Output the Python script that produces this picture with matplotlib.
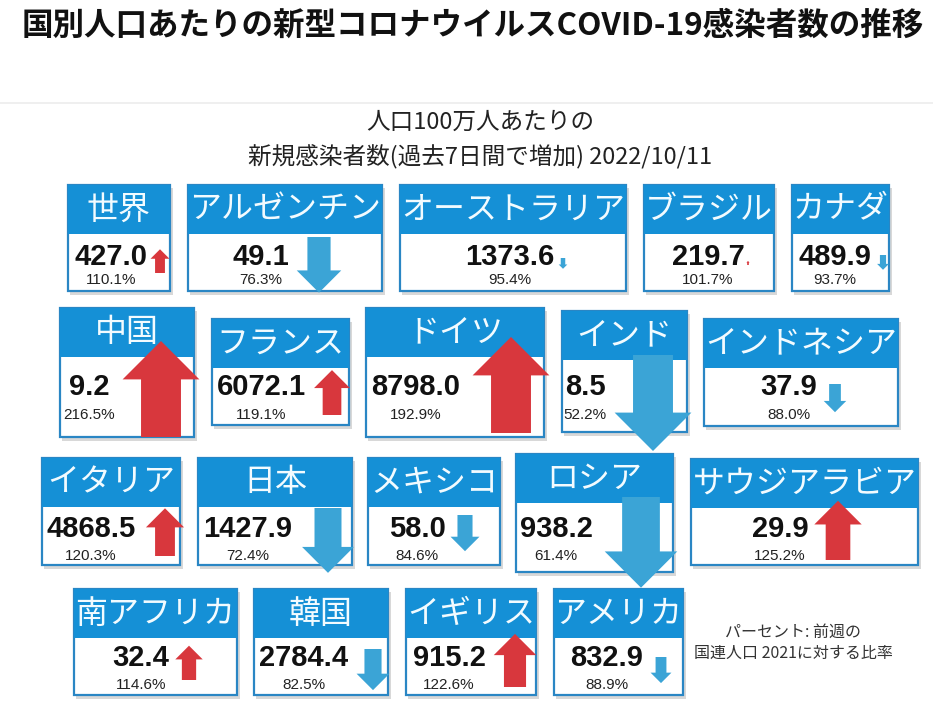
import matplotlib
matplotlib.use("Agg")
import matplotlib.pyplot as plt
from matplotlib.patches import Rectangle, Polygon

# ---------------- data ----------------
countries = ["世界", "アルゼンチン", "オーストラリア", "ブラジル", "カナダ",
             "中国", "フランス", "ドイツ", "インド", "インドネシア",
             "イタリア", "日本", "メキシコ", "ロシア", "サウジアラビア",
             "南アフリカ", "韓国", "イギリス", "アメリカ"]
cases = [427.0, 49.1, 1373.6, 219.7, 489.9,
         9.2, 6072.1, 8798.0, 8.5, 37.9,
         4868.5, 1427.9, 58.0, 938.2, 29.9,
         32.4, 2784.4, 915.2, 832.9]
pct = [110.1, 76.3, 95.4, 101.7, 93.7,
       216.5, 119.1, 192.9, 52.2, 88.0,
       120.3, 72.4, 84.6, 61.4, 125.2,
       114.6, 82.5, 122.6, 88.9]

title = "国別人口あたりの新型コロナウイルスCOVID-19感染者数の推移"
subtitle1 = "人口100万人あたりの"
subtitle2 = "新規感染者数(過去7日間で増加) 2022/10/11"
note1 = "パーセント: 前週の"
note2 = "国連人口 2021に対する比率"

# ---------------- layout (pixel space) ----------------
# box: x0, y0, x1, y1
boxes = [(68, 185, 170, 291), (188, 185, 382, 291), (400, 185, 626, 291),
         (644, 185, 774, 291), (792, 185, 889, 291),
         (60, 308, 194, 437), (212, 319, 349, 425), (366, 308, 544, 437),
         (562, 311, 687, 432), (704, 319, 898, 426),
         (42, 458, 180, 565), (198, 458, 352, 565), (368, 458, 500, 565),
         (516, 454, 673, 572), (691, 459, 918, 565),
         (74, 589, 237, 695), (254, 589, 388, 695), (406, 589, 536, 695),
         (554, 589, 683, 695)]
text_cx = [111, 261, 510, 708, 835,
           89, 261, 416, 585, 789,
           91, 248, 417, 556, 780,
           141, 304, 449, 607]
row_of = [0]*5 + [1]*5 + [2]*5 + [3]*4
num_y = [257, 387, 529, 658]
pct_y = [280, 415, 556, 685]
# arrow anchor: centre x, base y (bottom for up arrows, top for down arrows)
arrow_anchor = [(160, 273), (319, 237), (563, 258), (748, 265), (883, 255),
                (161, 437), (332, 415), (511, 433), (653, 355), (835, 384),
                (165, 556), (328, 508), (465, 515), (641, 497), (838, 560),
                (189, 680), (373, 649), (515, 687), (661, 657)]
HEADER_H = 49

HEADER_COLOR = "#1590d6"
BORDER_COLOR = "#2a86c4"
UP_COLOR = "#d8373d"
DOWN_COLOR = "#3ba4d6"

W, H = 933, 702
fig = plt.figure(figsize=(W / 100, H / 100), dpi=100)
ax = fig.add_axes([0, 0, 1, 1])
ax.set_xlim(0, W)
ax.set_ylim(H, 0)
ax.axis("off")

JP = ["Noto Sans CJK JP", "DejaVu Sans"]
LAT = ["Liberation Sans", "DejaVu Sans"]

ax.text(22, 26, title, fontsize=22.7, fontweight="bold", family=JP,
        ha="left", va="center", color="#111111")
ax.plot([0, W], [103, 103], color="#ececec", lw=1.2)
ax.text(480, 122, subtitle1, fontsize=17, family=JP, ha="center", va="center", color="#222222")
ax.text(480, 157, subtitle2, fontsize=17, family=JP, ha="center", va="center", color="#222222")

for i, name in enumerate(countries):
    x0, y0, x1, y1 = boxes[i]
    w, h = x1 - x0, y1 - y0
    # shadow
    ax.add_patch(Rectangle((x0 + 2, y0 + 3), w + 1, h + 1, facecolor="#c8c8c8",
                           edgecolor="none", alpha=0.7, zorder=1))
    # body
    ax.add_patch(Rectangle((x0, y0), w, h, facecolor="white",
                           edgecolor=BORDER_COLOR, lw=1.6, zorder=2))
    # header
    ax.add_patch(Rectangle((x0, y0), w, HEADER_H, facecolor=HEADER_COLOR,
                           edgecolor="none", zorder=3))
    ax.text((x0 + x1) / 2, y0 + HEADER_H / 2, name, fontsize=23, family=JP,
            ha="center", va="center", color="#f2fbff", zorder=4)
    r = row_of[i]
    ax.text(text_cx[i], num_y[r], f"{cases[i]:.1f}", fontsize=21, fontweight="bold",
            family=LAT, ha="center", va="center", color="#111111", zorder=4)
    ax.text(text_cx[i], pct_y[r], f"{pct[i]:.1f}%", fontsize=11, family=LAT,
            ha="center", va="center", color="#222222", zorder=4)

# arrows (size from the percentage change)
for i in range(len(countries)):
    d = abs(pct[i] - 100.0)
    L = min(2.35 * d, 96.0)
    hw = 0.8 * L
    sw = 0.52 * hw
    hl = 0.4 * L
    cx, yb = arrow_anchor[i]
    up = pct[i] > 100
    s = -1 if up else 1
    pts = [(cx - sw / 2, yb), (cx - sw / 2, yb + s * (L - hl)),
           (cx - hw / 2, yb + s * (L - hl)), (cx, yb + s * L),
           (cx + hw / 2, yb + s * (L - hl)), (cx + sw / 2, yb + s * (L - hl)),
           (cx + sw / 2, yb)]
    ax.add_patch(Polygon(pts, closed=True, facecolor=UP_COLOR if up else DOWN_COLOR,
                         edgecolor="none", zorder=6))

ax.text(793, 632, note1, fontsize=11.5, family=JP, ha="center", va="center", color="#333333")
ax.text(793, 653, note2, fontsize=11.5, family=JP, ha="center", va="center", color="#333333")

fig.savefig("out.png", dpi=100)
